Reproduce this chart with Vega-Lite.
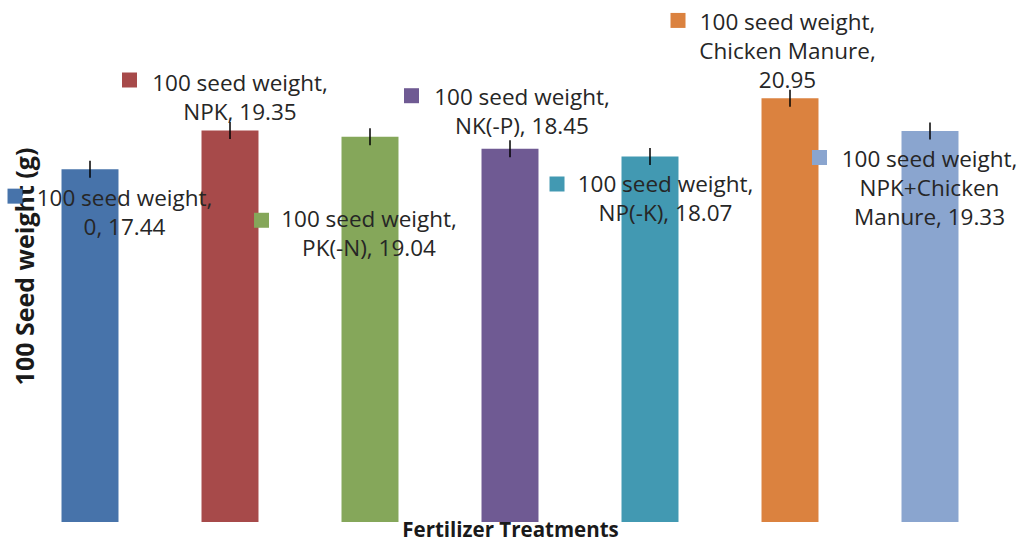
{
  "$schema": "https://vega.github.io/schema/vega-lite/v6.json",
  "width": 980,
  "height": 522,
  "autosize": {"type": "none"},
  "padding": {"left": 20, "top": 0, "right": 22, "bottom": 21},
  "background": "white",
  "config": {"view": {"stroke": null}, "font": "Open Sans"},
  "data": {
    "values": [
      {"treatment": "0", "weight": 17.44, "err": 0.42, "label": "100 seed weight,|0, 17.44"},
      {"treatment": "NPK", "weight": 19.35, "err": 0.42, "label": "100 seed weight,|NPK, 19.35"},
      {"treatment": "PK(-N)", "weight": 19.04, "err": 0.42, "label": "100 seed weight,|PK(-N), 19.04"},
      {"treatment": "NK(-P)", "weight": 18.45, "err": 0.42, "label": "100 seed weight,|NK(-P), 18.45"},
      {"treatment": "NP(-K)", "weight": 18.07, "err": 0.42, "label": "100 seed weight,|NP(-K), 18.07"},
      {"treatment": "Chicken Manure", "weight": 20.95, "err": 0.42, "label": "100 seed weight,|Chicken Manure,|20.95"},
      {"treatment": "NPK+Chicken Manure", "weight": 19.33, "err": 0.42, "label": "100 seed weight,|NPK+Chicken|Manure, 19.33"}
    ]
  },
  "encoding": {
    "x": {
      "field": "treatment", "type": "nominal", "sort": null,
      "scale": {"paddingInner": 0.593, "paddingOuter": 0.2965},
      "axis": {"labels": false, "ticks": false, "domain": false, "grid": false,
        "title": "Fertilizer Treatments", "titleFontSize": 20.5, "titleFontWeight": "bold",
        "titleFont": "Open Sans", "titleColor": "#1a1a1a", "titlePadding": -2}
    },
    "y": {
      "field": "weight", "type": "quantitative",
      "scale": {"domain": [0, 25.8], "nice": false, "zero": true},
      "axis": {"labels": false, "ticks": false, "domain": false, "grid": false,
        "title": "100 Seed weight (g)", "titleFontSize": 25, "titleFontWeight": "bold",
        "titleFont": "Open Sans", "titleColor": "#1a1a1a", "titleAngle": -90,
        "titleX": 5, "titleY": 266, "titleAlign": "center", "titleBaseline": "middle"}
    }
  },
  "layer": [
    {
      "mark": {"type": "bar"},
      "encoding": {
        "color": {
          "field": "treatment", "type": "nominal", "legend": null,
          "scale": {
            "domain": ["0", "NPK", "PK(-N)", "NK(-P)", "NP(-K)", "Chicken Manure", "NPK+Chicken Manure"],
            "range": ["#4773AA", "#A74A4A", "#85A75A", "#6F5A93", "#4299B2", "#DB823F", "#8AA5CF"]
          }
        }
      }
    },
    {
      "mark": {"type": "errorbar", "color": "#000000", "thickness": 1.5},
      "encoding": {"yError": {"field": "err"}}
    },
    {
      "transform": [{"filter": "datum.treatment === '0'"}],
      "layer": [
        {"mark": {"type": "text", "dx": 34.5, "dy": 18.5, "baseline": "top", "lineBreak": "|", "fontSize": 22.5, "lineHeight": 29, "color": "#262626"}, "encoding": {"text": {"field": "label"}}},
        {"mark": {"type": "point", "shape": "square", "filled": true, "size": 225, "opacity": 1}, "encoding": {"color": {"field": "treatment", "type": "nominal"}, "xOffset": {"value": -46.5}, "yOffset": {"value": 27}}}
      ]
    },
    {
      "transform": [{"filter": "datum.treatment === 'NPK'"}],
      "layer": [
        {"mark": {"type": "text", "dx": 10, "dy": -58, "baseline": "top", "lineBreak": "|", "fontSize": 22.5, "lineHeight": 29, "color": "#262626"}, "encoding": {"text": {"field": "label"}}},
        {"mark": {"type": "point", "shape": "square", "filled": true, "size": 225, "opacity": 1}, "encoding": {"color": {"field": "treatment", "type": "nominal"}, "xOffset": {"value": -72}, "yOffset": {"value": -50.5}}}
      ]
    },
    {
      "transform": [{"filter": "datum.treatment === 'PK(-N)'"}],
      "layer": [
        {"mark": {"type": "text", "dx": -1, "dy": 72, "baseline": "top", "lineBreak": "|", "fontSize": 22.5, "lineHeight": 29, "color": "#262626"}, "encoding": {"text": {"field": "label"}}},
        {"mark": {"type": "point", "shape": "square", "filled": true, "size": 225, "opacity": 1}, "encoding": {"color": {"field": "treatment", "type": "nominal"}, "xOffset": {"value": -80}, "yOffset": {"value": 83.5}}}
      ]
    },
    {
      "transform": [{"filter": "datum.treatment === 'NK(-P)'"}],
      "layer": [
        {"mark": {"type": "text", "dx": 12, "dy": -62, "baseline": "top", "lineBreak": "|", "fontSize": 22.5, "lineHeight": 29, "color": "#262626"}, "encoding": {"text": {"field": "label"}}},
        {"mark": {"type": "point", "shape": "square", "filled": true, "size": 225, "opacity": 1}, "encoding": {"color": {"field": "treatment", "type": "nominal"}, "xOffset": {"value": -70}, "yOffset": {"value": -53}}}
      ]
    },
    {
      "transform": [{"filter": "datum.treatment === 'NP(-K)'"}],
      "layer": [
        {"mark": {"type": "text", "dx": 15.5, "dy": 17.6, "baseline": "top", "lineBreak": "|", "fontSize": 22.5, "lineHeight": 29, "color": "#262626"}, "encoding": {"text": {"field": "label"}}},
        {"mark": {"type": "point", "shape": "square", "filled": true, "size": 225, "opacity": 1}, "encoding": {"color": {"field": "treatment", "type": "nominal"}, "xOffset": {"value": -64.5}, "yOffset": {"value": 27.6}}}
      ]
    },
    {
      "transform": [{"filter": "datum.treatment === 'Chicken Manure'"}],
      "layer": [
        {"mark": {"type": "text", "dx": -2.5, "dy": -86, "baseline": "top", "lineBreak": "|", "fontSize": 22.5, "lineHeight": 29, "color": "#262626"}, "encoding": {"text": {"field": "label"}}},
        {"mark": {"type": "point", "shape": "square", "filled": true, "size": 225, "opacity": 1}, "encoding": {"color": {"field": "treatment", "type": "nominal"}, "xOffset": {"value": -83.5}, "yOffset": {"value": -77.7}}}
      ]
    },
    {
      "transform": [{"filter": "datum.treatment === 'NPK+Chicken Manure'"}],
      "layer": [
        {"mark": {"type": "text", "dx": -0.5, "dy": 18, "baseline": "top", "lineBreak": "|", "fontSize": 22.5, "lineHeight": 29, "color": "#262626"}, "encoding": {"text": {"field": "label"}}},
        {"mark": {"type": "point", "shape": "square", "filled": true, "size": 225, "opacity": 1}, "encoding": {"color": {"field": "treatment", "type": "nominal"}, "xOffset": {"value": -82}, "yOffset": {"value": 26.6}}}
      ]
    }
  ]
}
